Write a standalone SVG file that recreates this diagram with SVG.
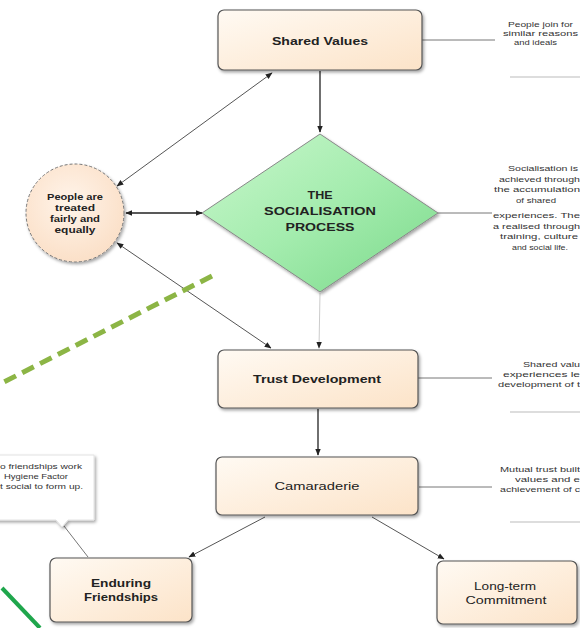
<svg xmlns="http://www.w3.org/2000/svg" width="580" height="628" viewBox="0 0 580 628">
<defs>
<linearGradient id="peach" x1="0" y1="0" x2="1" y2="1">
<stop offset="0" stop-color="#fffaf3"/>
<stop offset="1" stop-color="#fce3c8"/>
</linearGradient>
<radialGradient id="circ" cx="0.45" cy="0.4" r="0.6">
<stop offset="0" stop-color="#fff4ea"/>
<stop offset="1" stop-color="#fbe0c8"/>
</radialGradient>
<linearGradient id="green" x1="0" y1="0" x2="1" y2="1">
<stop offset="0" stop-color="#c9f7cc"/>
<stop offset="0.5" stop-color="#a4ecae"/>
<stop offset="1" stop-color="#7ad98a"/>
</linearGradient>
<filter id="sh" x="-10%" y="-10%" width="130%" height="140%">
<feDropShadow dx="1.5" dy="2" stdDeviation="1.5" flood-color="#000" flood-opacity="0.35"/>
</filter>
<marker id="ah" viewBox="0 0 10 10" refX="9" refY="5" markerWidth="7" markerHeight="7" orient="auto-start-reverse" markerUnits="userSpaceOnUse">
<path d="M0,1 L10,5 L0,9 Z" fill="#222"/>
</marker>
</defs>
<style>
.box{fill:url(#peach);stroke:#555;stroke-width:1.2;filter:url(#sh)}
.lbl{font-family:"Liberation Sans",Arial,sans-serif;font-size:11.5px;font-weight:bold;fill:#222;text-anchor:middle}
.lblr{font-family:"Liberation Sans",Arial,sans-serif;font-size:11px;fill:#222;text-anchor:middle}
.note{font-family:"Liberation Sans",Arial,sans-serif;font-size:8px;fill:#333}
.con{stroke:#555;stroke-width:1;fill:none}
.conk{stroke:#222;stroke-width:1.3;fill:none}
.nl{stroke:#777;stroke-width:1;fill:none}
.shl{stroke:#ddd;stroke-width:2;fill:none}
</style>
<rect width="580" height="628" fill="#ffffff"/>

<g id="connectors">
<line class="conk" x1="320" y1="71" x2="320" y2="132" marker-end="url(#ah)"/>
<line class="con" x1="272" y1="73" x2="117" y2="186" marker-start="url(#ah)" marker-end="url(#ah)"/>
<line class="conk" x1="202" y1="213" x2="126" y2="213" marker-start="url(#ah)" marker-end="url(#ah)"/>
<line class="con" x1="117" y1="243" x2="271" y2="348" marker-start="url(#ah)" marker-end="url(#ah)"/>
<line stroke="#ccc" stroke-width="1" x1="320" y1="293" x2="319" y2="348" marker-end="url(#ah)"/>
<line class="conk" x1="318" y1="409" x2="318" y2="455" marker-end="url(#ah)"/>
<line class="con" x1="265" y1="517" x2="189" y2="557" marker-end="url(#ah)"/>
<line class="con" x1="372" y1="517" x2="444" y2="559" marker-end="url(#ah)"/>
<line class="nl" x1="422" y1="40" x2="495" y2="40"/>
<line class="nl" x1="438" y1="213" x2="492" y2="213"/>
<line class="nl" x1="418" y1="378" x2="492" y2="378"/>
<line class="nl" x1="419" y1="487" x2="492" y2="487"/>
<line class="nl" x1="64" y1="526" x2="88" y2="557"/>
</g>

<g id="shared-values">
<rect class="box" x="218" y="10" width="204" height="60" rx="6"/>
<text class="lbl" x="320" y="45" textLength="96" lengthAdjust="spacingAndGlyphs">Shared Values</text>
</g>

<g id="note-shared">
<line class="shl" x1="510" y1="77" x2="580" y2="77"/>
<text class="note" x="508" y="27" textLength="65" lengthAdjust="spacingAndGlyphs">People join for</text>
<text class="note" x="503" y="36" textLength="75" lengthAdjust="spacingAndGlyphs">similar reasons</text>
<text class="note" x="514" y="45" textLength="43" lengthAdjust="spacingAndGlyphs">and ideals</text>
</g>

<g id="socialisation">
<polygon points="320,134 438,213 320,292 202,213" fill="url(#green)" stroke="#888" stroke-width="1" filter="url(#sh)"/>
<text class="lbl" x="320" y="199" textLength="25" lengthAdjust="spacingAndGlyphs">THE</text>
<text class="lbl" x="320" y="215" textLength="112" lengthAdjust="spacingAndGlyphs">SOCIALISATION</text>
<text class="lbl" x="320" y="231" textLength="69" lengthAdjust="spacingAndGlyphs">PROCESS</text>
</g>

<g id="note-socialisation">
<text class="note" x="508" y="171" textLength="70" lengthAdjust="spacingAndGlyphs">Socialisation is</text>
<text class="note" x="499" y="181.5" textLength="81" lengthAdjust="spacingAndGlyphs">achieved through</text>
<text class="note" x="494" y="192" textLength="86" lengthAdjust="spacingAndGlyphs">the accumulation</text>
<text class="note" x="516" y="202.5" textLength="40" lengthAdjust="spacingAndGlyphs">of shared</text>
<text class="note" x="493" y="218" textLength="87" lengthAdjust="spacingAndGlyphs">experiences. The</text>
<text class="note" x="493" y="228.5" textLength="87" lengthAdjust="spacingAndGlyphs">a realised through</text>
<text class="note" x="500" y="239" textLength="78" lengthAdjust="spacingAndGlyphs">training, culture</text>
<text class="note" x="512" y="249.5" textLength="56" lengthAdjust="spacingAndGlyphs">and social life.</text>
</g>

<g id="people-treated">
<circle cx="75" cy="213" r="49" fill="url(#circ)" stroke="#777" stroke-width="1" stroke-dasharray="3,2" filter="url(#sh)"/>
<text class="lbl" x="75" y="200" style="font-size:9.5px" textLength="56" lengthAdjust="spacingAndGlyphs">People are</text>
<text class="lbl" x="75" y="211" style="font-size:9.5px" textLength="40" lengthAdjust="spacingAndGlyphs">treated</text>
<text class="lbl" x="75" y="222" style="font-size:9.5px" textLength="50" lengthAdjust="spacingAndGlyphs">fairly and</text>
<text class="lbl" x="75" y="233" style="font-size:9.5px" textLength="41" lengthAdjust="spacingAndGlyphs">equally</text>
</g>

<g id="trust-development">
<rect class="box" x="218" y="350" width="200" height="58" rx="6"/>
<text class="lblr" x="317" y="383" style="font-weight:bold" textLength="128" lengthAdjust="spacingAndGlyphs">Trust Development</text>
</g>

<g id="note-trust">
<line class="shl" x1="510" y1="412" x2="580" y2="412"/>
<text class="note" x="523" y="367" textLength="57" lengthAdjust="spacingAndGlyphs">Shared valu</text>
<text class="note" x="503" y="377" textLength="77" lengthAdjust="spacingAndGlyphs">experiences le</text>
<text class="note" x="498" y="387" textLength="82" lengthAdjust="spacingAndGlyphs">development of t</text>
</g>

<g id="camaraderie">
<rect class="box" x="216" y="457" width="202" height="58" rx="6"/>
<text class="lblr" x="317" y="490" textLength="85" lengthAdjust="spacingAndGlyphs">Camaraderie</text>
</g>

<g id="note-camaraderie">
<line class="shl" x1="510" y1="522" x2="580" y2="522"/>
<text class="note" x="500" y="472" textLength="80" lengthAdjust="spacingAndGlyphs">Mutual trust built</text>
<text class="note" x="515" y="482" textLength="65" lengthAdjust="spacingAndGlyphs">values and e</text>
<text class="note" x="500" y="492" textLength="80" lengthAdjust="spacingAndGlyphs">achievement of c</text>
</g>

<g id="note-left">
<path d="M-5,455 H94 V520 H68 L62,527 L56,520 H-5 Z" fill="#fff" stroke="#e2e2e2" stroke-width="1" filter="url(#sh)"/>
<text class="note" x="0" y="469" textLength="82" lengthAdjust="spacingAndGlyphs">o friendships work</text>
<text class="note" x="4" y="479" textLength="64" lengthAdjust="spacingAndGlyphs">Hygiene Factor</text>
<text class="note" x="0" y="489" textLength="83" lengthAdjust="spacingAndGlyphs">t social to form up.</text>
</g>

<g id="enduring-friendships">
<rect class="box" x="50" y="558" width="142" height="64" rx="6"/>
<text class="lbl" x="121" y="587" style="font-size:10.5px" textLength="60" lengthAdjust="spacingAndGlyphs">Enduring</text>
<text class="lbl" x="121" y="601" style="font-size:10.5px" textLength="74" lengthAdjust="spacingAndGlyphs">Friendships</text>
</g>

<g id="long-term-commitment">
<rect class="box" x="437" y="561" width="140" height="63" rx="6"/>
<text class="lblr" x="505" y="590" style="font-size:10px" textLength="62" lengthAdjust="spacingAndGlyphs">Long-term</text>
<text class="lblr" x="506" y="604" style="font-size:10px" textLength="81" lengthAdjust="spacingAndGlyphs">Commitment</text>
</g>

<g id="overlays">
<line x1="212" y1="276" x2="0" y2="384" stroke="#8cb545" stroke-width="5" stroke-dasharray="13,7"/>
<line x1="2" y1="588" x2="40" y2="628" stroke="#1fa64c" stroke-width="4"/>
</g>
</svg>
